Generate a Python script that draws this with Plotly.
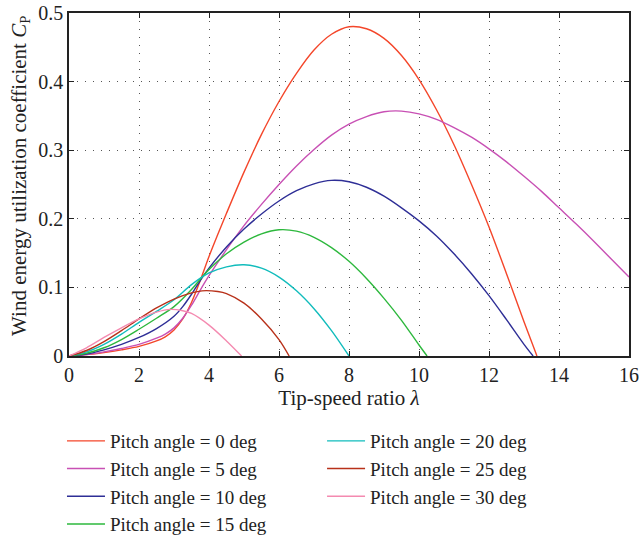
import plotly.graph_objects as go

# Tip-speed ratio (lambda) samples and Cp values
lam_0 = [0, 0.5, 1, 1.5, 2, 2.5, 2.75, 3, 3.25, 3.5, 3.75, 4, 4.25, 4.5, 5, 5.5, 6, 6.5, 7, 7.5, 8, 8.5, 9, 9.5, 10, 10.5, 11, 11.5, 12, 12.5, 13, 13.37]
cp_0 = [0, 0.002, 0.005, 0.009, 0.014, 0.022, 0.028, 0.038, 0.054, 0.078, 0.11, 0.145, 0.177, 0.208, 0.268, 0.323, 0.371, 0.412, 0.446, 0.469, 0.48, 0.477, 0.463, 0.438, 0.403, 0.359, 0.308, 0.25, 0.188, 0.12, 0.05, 0]

lam_5 = [0, 0.5, 1, 1.5, 2, 2.5, 2.75, 3, 3.25, 3.5, 3.75, 4, 4.5, 5, 5.5, 6, 6.5, 7, 7.5, 8, 8.5, 9, 9.5, 10, 10.5, 11, 11.5, 12, 12.5, 13, 13.5, 14, 14.5, 15, 15.5, 16]
cp_5 = [0, 0.002, 0.006, 0.011, 0.017, 0.026, 0.032, 0.041, 0.055, 0.074, 0.096, 0.117, 0.155, 0.19, 0.221, 0.25, 0.277, 0.301, 0.322, 0.338, 0.349, 0.356, 0.357, 0.353, 0.345, 0.333, 0.319, 0.302, 0.283, 0.262, 0.24, 0.216, 0.192, 0.167, 0.141, 0.115]

lam_10 = [0, 0.5, 1, 1.5, 2, 2.5, 3, 3.25, 3.5, 3.75, 4, 4.5, 5, 5.5, 6, 6.5, 7, 7.5, 8, 8.5, 9, 9.5, 10, 10.5, 11, 11.5, 12, 12.5, 13, 13.26]
cp_10 = [0, 0.003, 0.009, 0.017, 0.027, 0.04, 0.058, 0.072, 0.09, 0.11, 0.128, 0.159, 0.185, 0.207, 0.226, 0.241, 0.251, 0.256, 0.254, 0.246, 0.233, 0.216, 0.197, 0.175, 0.149, 0.12, 0.088, 0.053, 0.017, 0]

lam_15 = [0, 0.5, 1, 1.5, 2, 2.5, 3, 3.5, 3.75, 4, 4.5, 5, 5.5, 6, 6.5, 7, 7.5, 8, 8.5, 9, 9.5, 10, 10.23]
cp_15 = [0, 0.004, 0.012, 0.024, 0.039, 0.055, 0.072, 0.097, 0.112, 0.126, 0.149, 0.166, 0.178, 0.184, 0.182, 0.173, 0.158, 0.138, 0.113, 0.084, 0.052, 0.016, 0]

lam_20 = [0, 0.5, 1, 1.5, 2, 2.5, 3, 3.5, 4, 4.5, 5, 5.5, 6, 6.5, 7, 7.5, 8]
cp_20 = [0, 0.006, 0.017, 0.032, 0.049, 0.065, 0.082, 0.104, 0.121, 0.13, 0.133, 0.128, 0.115, 0.095, 0.069, 0.037, 0]

lam_25 = [0, 0.5, 1, 1.5, 2, 2.5, 3, 3.5, 3.8, 4.25, 4.5, 5, 5.5, 6, 6.29]
cp_25 = [0, 0.008, 0.021, 0.037, 0.054, 0.07, 0.083, 0.092, 0.095, 0.094, 0.091, 0.077, 0.054, 0.024, 0]

lam_30 = [0, 0.5, 1, 1.5, 2, 2.5, 2.9, 3.25, 3.5, 4, 4.5, 4.93]
cp_30 = [0, 0.012, 0.027, 0.041, 0.054, 0.064, 0.068, 0.066, 0.062, 0.045, 0.022, 0]

names = ["Pitch angle = 0 deg", "Pitch angle = 5 deg", "Pitch angle = 10 deg",
         "Pitch angle = 15 deg", "Pitch angle = 20 deg", "Pitch angle = 25 deg",
         "Pitch angle = 30 deg"]
colors = ["#f4462a", "#c850b4", "#2e2e96", "#2db83d", "#11bcbc", "#b8311a", "#f48ab0"]
xs = [lam_0, lam_5, lam_10, lam_15, lam_20, lam_25, lam_30]
ys = [cp_0, cp_5, cp_10, cp_15, cp_20, cp_25, cp_30]

y_title = "Wind energy utilization coefficient <i>C</i><sub>P</sub>"
x_title = "Tip-speed ratio <i>λ</i>"

FONT = "Liberation Serif"
fig = go.Figure()
for i, (x, y, n, c) in enumerate(zip(xs, ys, names, colors)):
    fig.add_trace(go.Scatter(
        x=x, y=y, name=n, mode="lines",
        line=dict(color=c, width=1.4, shape="spline", smoothing=0.9),
        legend="legend" if i < 4 else "legend2",
    ))

axis_common = dict(
    showline=True, linecolor="#222", linewidth=1.5, mirror="ticks",
    ticks="inside", ticklen=5, tickcolor="#222", tickwidth=1,
    showgrid=True, gridcolor="#555", griddash="1px,7px", gridwidth=1,
    zeroline=False,
    tickfont=dict(family=FONT, size=20, color="#222"),
)

legend_common = dict(
    xref="container", yref="container", xanchor="left", yanchor="top",
    font=dict(family=FONT, size=19, color="#222"), bgcolor="rgba(0,0,0,0)",
    tracegroupgap=0, itemwidth=38,
)

fig.update_layout(
    width=639, height=538,
    margin=dict(l=69, r=10, t=13, b=182, autoexpand=False),
    paper_bgcolor="white", plot_bgcolor="white",
    font=dict(family=FONT, color="#222"),
    xaxis=dict(range=[0, 16], dtick=2, **axis_common,
               title=dict(text=x_title, font=dict(family=FONT, size=21), standoff=6)),
    yaxis=dict(range=[0, 0.5], dtick=0.1, **axis_common),
    legend=dict(x=0.097, y=0.2156, **legend_common),
    legend2=dict(x=0.504, y=0.2156, **legend_common),
    annotations=[dict(
        text=y_title, textangle=-90, showarrow=False,
        xref="paper", yref="paper", x=-0.0875, y=0.525,
        xanchor="center", yanchor="middle",
        font=dict(family=FONT, size=21, color="#222"),
    )],
)

fig.write_html("out.html")
